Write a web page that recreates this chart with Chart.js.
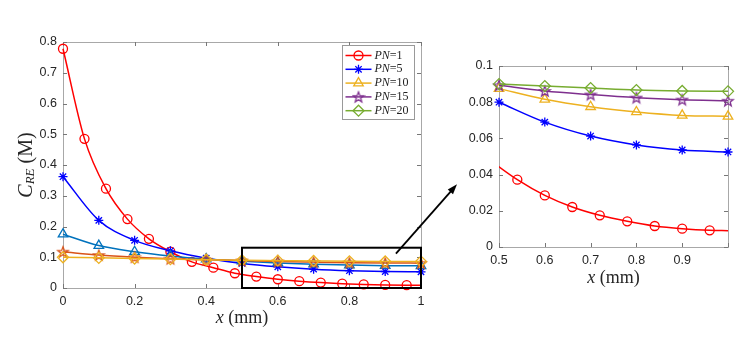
<!DOCTYPE html>
<html>
<head>
<meta charset="utf-8">
<script src="https://cdn.jsdelivr.net/npm/chart.js@4.4.0/dist/chart.umd.min.js"></script>
<style>
  body { margin: 0; background: #fff; }
  #wrap { position: relative; width: 747px; height: 346px; }
  canvas { position: absolute; top: 0; }
</style>
</head>
<body>
<div id="wrap">
  <canvas id="mainChart" width="440" height="346" style="left:0"></canvas>
  <canvas id="zoomChart" width="307" height="346" style="left:440px"></canvas>
  <canvas id="arrowLayer" width="747" height="346" style="left:0"></canvas>
</div>
<script>
// x positions of the samples
const pn1X = [0, 0.06, 0.12, 0.18, 0.24, 0.3, 0.36, 0.42, 0.48, 0.54, 0.6, 0.66, 0.72, 0.78, 0.84, 0.9, 0.96, 1.0];
const stepX = [0, 0.1, 0.2, 0.3, 0.4, 0.5, 0.6, 0.7, 0.8, 0.9, 1.0];

// C_RE (M)
const pn1Y = [0.778, 0.485, 0.323, 0.224, 0.16, 0.118, 0.085, 0.066, 0.048, 0.0372, 0.0285, 0.0221, 0.0175, 0.0142, 0.0116, 0.0101, 0.0092, 0.009];
const pn5Y = [0.362, 0.22, 0.155, 0.121, 0.097, 0.08, 0.069, 0.0613, 0.0564, 0.0536, 0.0525];
const pn10Y = [0.175, 0.138, 0.118, 0.104, 0.094, 0.0875, 0.0816, 0.0775, 0.0746, 0.0727, 0.0722];
const pn15Y = [0.118, 0.107, 0.1, 0.095, 0.092, 0.0893, 0.0862, 0.0842, 0.0825, 0.0814, 0.0808];
const pn20Y = [0.1, 0.098, 0.096, 0.094, 0.092, 0.09, 0.0889, 0.0878, 0.0867, 0.0862, 0.086];

const seriesNames = ["1", "5", "10", "15", "20"];
const legendColors = ["#ff0000", "#0000ff", "#edb120", "#7e2f8e", "#77ac30"];
const mainColors = ["#ff0000", "#0000ff", "#0072bd", "#d95319", "#edb120"];

// zoom window shown by the black box
const zoomBox = { xMin: 0.5, xMax: 1.0, yMin: 0, yMax: 0.131 };

const tickFont = { family: "'Liberation Sans', Arial, sans-serif", size: 12.5 };
const serif = "'Liberation Serif', 'DejaVu Serif', serif";

// five pointed star, hollow (matlab 'p')
function pentagram(color) {
  const c = document.createElement("canvas");
  c.width = 14; c.height = 14;
  const g = c.getContext("2d");
  g.strokeStyle = color;
  g.lineWidth = 1.3;
  g.beginPath();
  for (let i = 0; i < 10; i++) {
    const r = i % 2 === 0 ? 5.5 : 2.3;
    const a = -Math.PI / 2 + i * Math.PI / 5;
    const px = 7 + r * Math.cos(a), py = 7.5 + r * Math.sin(a);
    if (i === 0) g.moveTo(px, py); else g.lineTo(px, py);
  }
  g.closePath();
  g.stroke();
  return c;
}

const markerStyles = (colors) => ["circle", "star", "triangle", pentagram(colors[3]), "rectRot"];
const markerRadius = [4.5, 4.5, 5.5, 6, 5.5];

function buildDatasets(colors, fromX) {
  const styles = markerStyles(colors);
  const xs = [pn1X, stepX, stepX, stepX, stepX];
  const ys = [pn1Y, pn5Y, pn10Y, pn15Y, pn20Y];
  return ys.map((y, i) => {
    let pts = xs[i].map((x, j) => ({ x: x, y: y[j] }));
    let clip = false;
    if (fromX !== undefined) {
      // keep one point left of the window for the red curve, clip it
      if (i === 0) { pts = pts.filter((p) => p.x >= fromX - 0.03); clip = 0; }
      else pts = pts.filter((p) => p.x >= fromX - 1e-9);
    }
    return {
      label: "PN=" + seriesNames[i],
      data: pts,
      borderColor: colors[i],
      borderWidth: 1.5,
      pointStyle: styles[i],
      pointRadius: (ctx) => (i === 0 && ctx.raw && ctx.raw.x === 1 ? 0 : markerRadius[i]),
      pointBorderColor: colors[i],
      pointBackgroundColor: "rgba(0,0,0,0)",
      pointBorderWidth: 1.3,
      cubicInterpolationMode: "monotone",
      order: 5 - i,
      clip: clip,
    };
  });
}

// box around the plot with inward ticks on all four sides
const framePlugin = {
  id: "frame",
  beforeDatasetsDraw(chart) {
    const { ctx, chartArea: a, scales } = chart;
    ctx.save();
    ctx.strokeStyle = "#a8a8a8";
    ctx.lineWidth = 1;
    ctx.strokeRect(Math.round(a.left) + 0.5, Math.round(a.top) + 0.5, Math.round(a.right - a.left), Math.round(a.bottom - a.top));
    ctx.strokeStyle = "#777";
    ctx.beginPath();
    scales.x.ticks.forEach((t) => {
      const px = Math.round(scales.x.getPixelForValue(t.value)) + 0.5;
      ctx.moveTo(px, a.bottom); ctx.lineTo(px, a.bottom - 4);
      ctx.moveTo(px, a.top); ctx.lineTo(px, a.top + 4);
    });
    scales.y.ticks.forEach((t) => {
      const py = Math.round(scales.y.getPixelForValue(t.value)) + 0.5;
      ctx.moveTo(a.left, py); ctx.lineTo(a.left + 4, py);
      ctx.moveTo(a.right, py); ctx.lineTo(a.right - 4, py);
    });
    ctx.stroke();
    ctx.restore();
  },
};

function drawXTitle(chart, y) {
  const { ctx, chartArea: a } = chart;
  ctx.save();
  ctx.fillStyle = "#262626";
  ctx.textBaseline = "middle";
  const it = "italic 18px " + serif, up = "18px " + serif;
  ctx.font = it; const w1 = ctx.measureText("x").width;
  ctx.font = up; const w2 = ctx.measureText(" (mm)").width;
  let x0 = (a.left + a.right) / 2 - (w1 + w2) / 2;
  ctx.font = it; ctx.fillText("x", x0, y);
  ctx.font = up; ctx.fillText(" (mm)", x0 + w1, y);
  ctx.restore();
}

const mainDecor = {
  id: "mainDecor",
  afterDatasetsDraw(chart) {
    const { ctx, scales } = chart;
    // zoom window
    const l = scales.x.getPixelForValue(zoomBox.xMin), r = scales.x.getPixelForValue(zoomBox.xMax);
    const t = scales.y.getPixelForValue(zoomBox.yMax), b = scales.y.getPixelForValue(zoomBox.yMin);
    ctx.save();
    ctx.strokeStyle = "#000";
    ctx.lineWidth = 2;
    ctx.strokeRect(l, t, r - l, b - t);
    ctx.restore();
  },
  afterDraw(chart) {
    const { ctx, chartArea: a } = chart;
    drawXTitle(chart, 318);
    // y title C_RE (M), rotated
    ctx.save();
    ctx.translate(27, (a.top + a.bottom) / 2);
    ctx.rotate(-Math.PI / 2);
    ctx.fillStyle = "#262626";
    ctx.textBaseline = "middle";
    const parts = [["C", "italic 20px " + serif, 0], ["RE", "italic 13px " + serif, 4], [" (M)", "20px " + serif, 0]];
    let total = 0;
    parts.forEach((p) => { ctx.font = p[1]; total += ctx.measureText(p[0]).width; });
    let x = -total / 2;
    parts.forEach((p) => { ctx.font = p[1]; ctx.fillText(p[0], x, p[2]); x += ctx.measureText(p[0]).width; });
    ctx.restore();

    // legend box
    const bw = 72, bh = 74;
    const bx = Math.round(a.right - 7 - bw) + 0.5, by = Math.round(a.top + 3) + 0.5;
    ctx.save();
    ctx.fillStyle = "#fff";
    ctx.fillRect(bx, by, bw, bh);
    ctx.strokeStyle = "#999";
    ctx.lineWidth = 1;
    ctx.strokeRect(bx, by, bw, bh);
    const styles = markerStyles(legendColors);
    seriesNames.forEach((n, i) => {
      const cy = by + 10 + i * 13.8;
      ctx.strokeStyle = legendColors[i];
      ctx.lineWidth = 1.5;
      ctx.beginPath(); ctx.moveTo(bx + 3, cy); ctx.lineTo(bx + 29, cy); ctx.stroke();
      ctx.lineWidth = 1.3;
      ctx.fillStyle = "rgba(0,0,0,0)";
      Chart.helpers.drawPoint(ctx, { pointStyle: styles[i], radius: markerRadius[i], borderWidth: 1.3, rotation: 0 }, bx + 16, cy);
      ctx.fillStyle = "#222";
      ctx.textBaseline = "middle";
      ctx.font = "italic 12px " + serif;
      ctx.fillText("PN", bx + 32, cy);
      const w = ctx.measureText("PN").width;
      ctx.font = "12px " + serif;
      ctx.fillText("=" + n, bx + 32 + w, cy);
    });
    ctx.restore();
  },
};

const zoomDecor = {
  id: "zoomDecor",
  afterDraw(chart) { drawXTitle(chart, 278); },
};

function axes(xMin, xMax, xStep, yMax, yStep, yWidth, hideLast) {
  return {
    x: {
      type: "linear", min: xMin, max: xMax,
      grid: { display: false, drawTicks: false }, border: { display: false },
      ticks: {
        stepSize: xStep, color: "#262626", font: tickFont, padding: 6,
        callback: (v) => (hideLast && v > xMax - 1e-6 ? "" : String(Math.round(v * 10) / 10)),
      },
      afterFit: (s) => { s.height = 40; },
    },
    y: {
      type: "linear", min: 0, max: yMax,
      grid: { display: false, drawTicks: false }, border: { display: false },
      ticks: {
        stepSize: yStep, color: "#262626", font: tickFont, padding: 6,
        callback: (v) => String(Math.round(v * 100) / 100),
      },
      afterFit: (s) => { s.width = yWidth; },
    },
  };
}

const mainChart = new Chart(document.getElementById("mainChart"), {
  type: "line",
  data: { datasets: buildDatasets(mainColors) },
  options: {
    responsive: false, animation: false, devicePixelRatio: 1,
    layout: { padding: { top: 42, right: 19, bottom: 18, left: 0 } },
    plugins: { legend: { display: false }, tooltip: { enabled: false } },
    scales: axes(0, 1, 0.2, 0.8, 0.1, 63, false),
  },
  plugins: [framePlugin, mainDecor],
});

const zoomChart = new Chart(document.getElementById("zoomChart"), {
  type: "line",
  data: { datasets: buildDatasets(legendColors, zoomBox.xMin) },
  options: {
    responsive: false, animation: false, devicePixelRatio: 1,
    layout: { padding: { top: 66, right: 19, bottom: 59, left: 0 } },
    plugins: { legend: { display: false }, tooltip: { enabled: false } },
    scales: axes(0.5, 1, 0.1, 0.1, 0.02, 59, true),
  },
  plugins: [framePlugin, zoomDecor],
});

// arrow from the box to the zoomed plot
const arrowFrom = { x: 0.93, y: 0.112 };
const g = document.getElementById("arrowLayer").getContext("2d");
const x1 = mainChart.scales.x.getPixelForValue(arrowFrom.x);
const y1 = mainChart.scales.y.getPixelForValue(arrowFrom.y);
const x2 = 440 + zoomChart.chartArea.left - 42;
const y2 = zoomChart.scales.y.getPixelForValue(0.0346);
const ang = Math.atan2(y2 - y1, x2 - x1);
g.strokeStyle = "#000";
g.fillStyle = "#000";
g.lineWidth = 1.8;
g.beginPath();
g.moveTo(x1, y1);
g.lineTo(x2 - 6 * Math.cos(ang), y2 - 6 * Math.sin(ang));
g.stroke();
g.beginPath();
g.moveTo(x2, y2);
g.lineTo(x2 - 10 * Math.cos(ang) + 3.5 * Math.sin(ang), y2 - 10 * Math.sin(ang) - 3.5 * Math.cos(ang));
g.lineTo(x2 - 10 * Math.cos(ang) - 3.5 * Math.sin(ang), y2 - 10 * Math.sin(ang) + 3.5 * Math.cos(ang));
g.closePath();
g.fill();
</script>
</body>
</html>
